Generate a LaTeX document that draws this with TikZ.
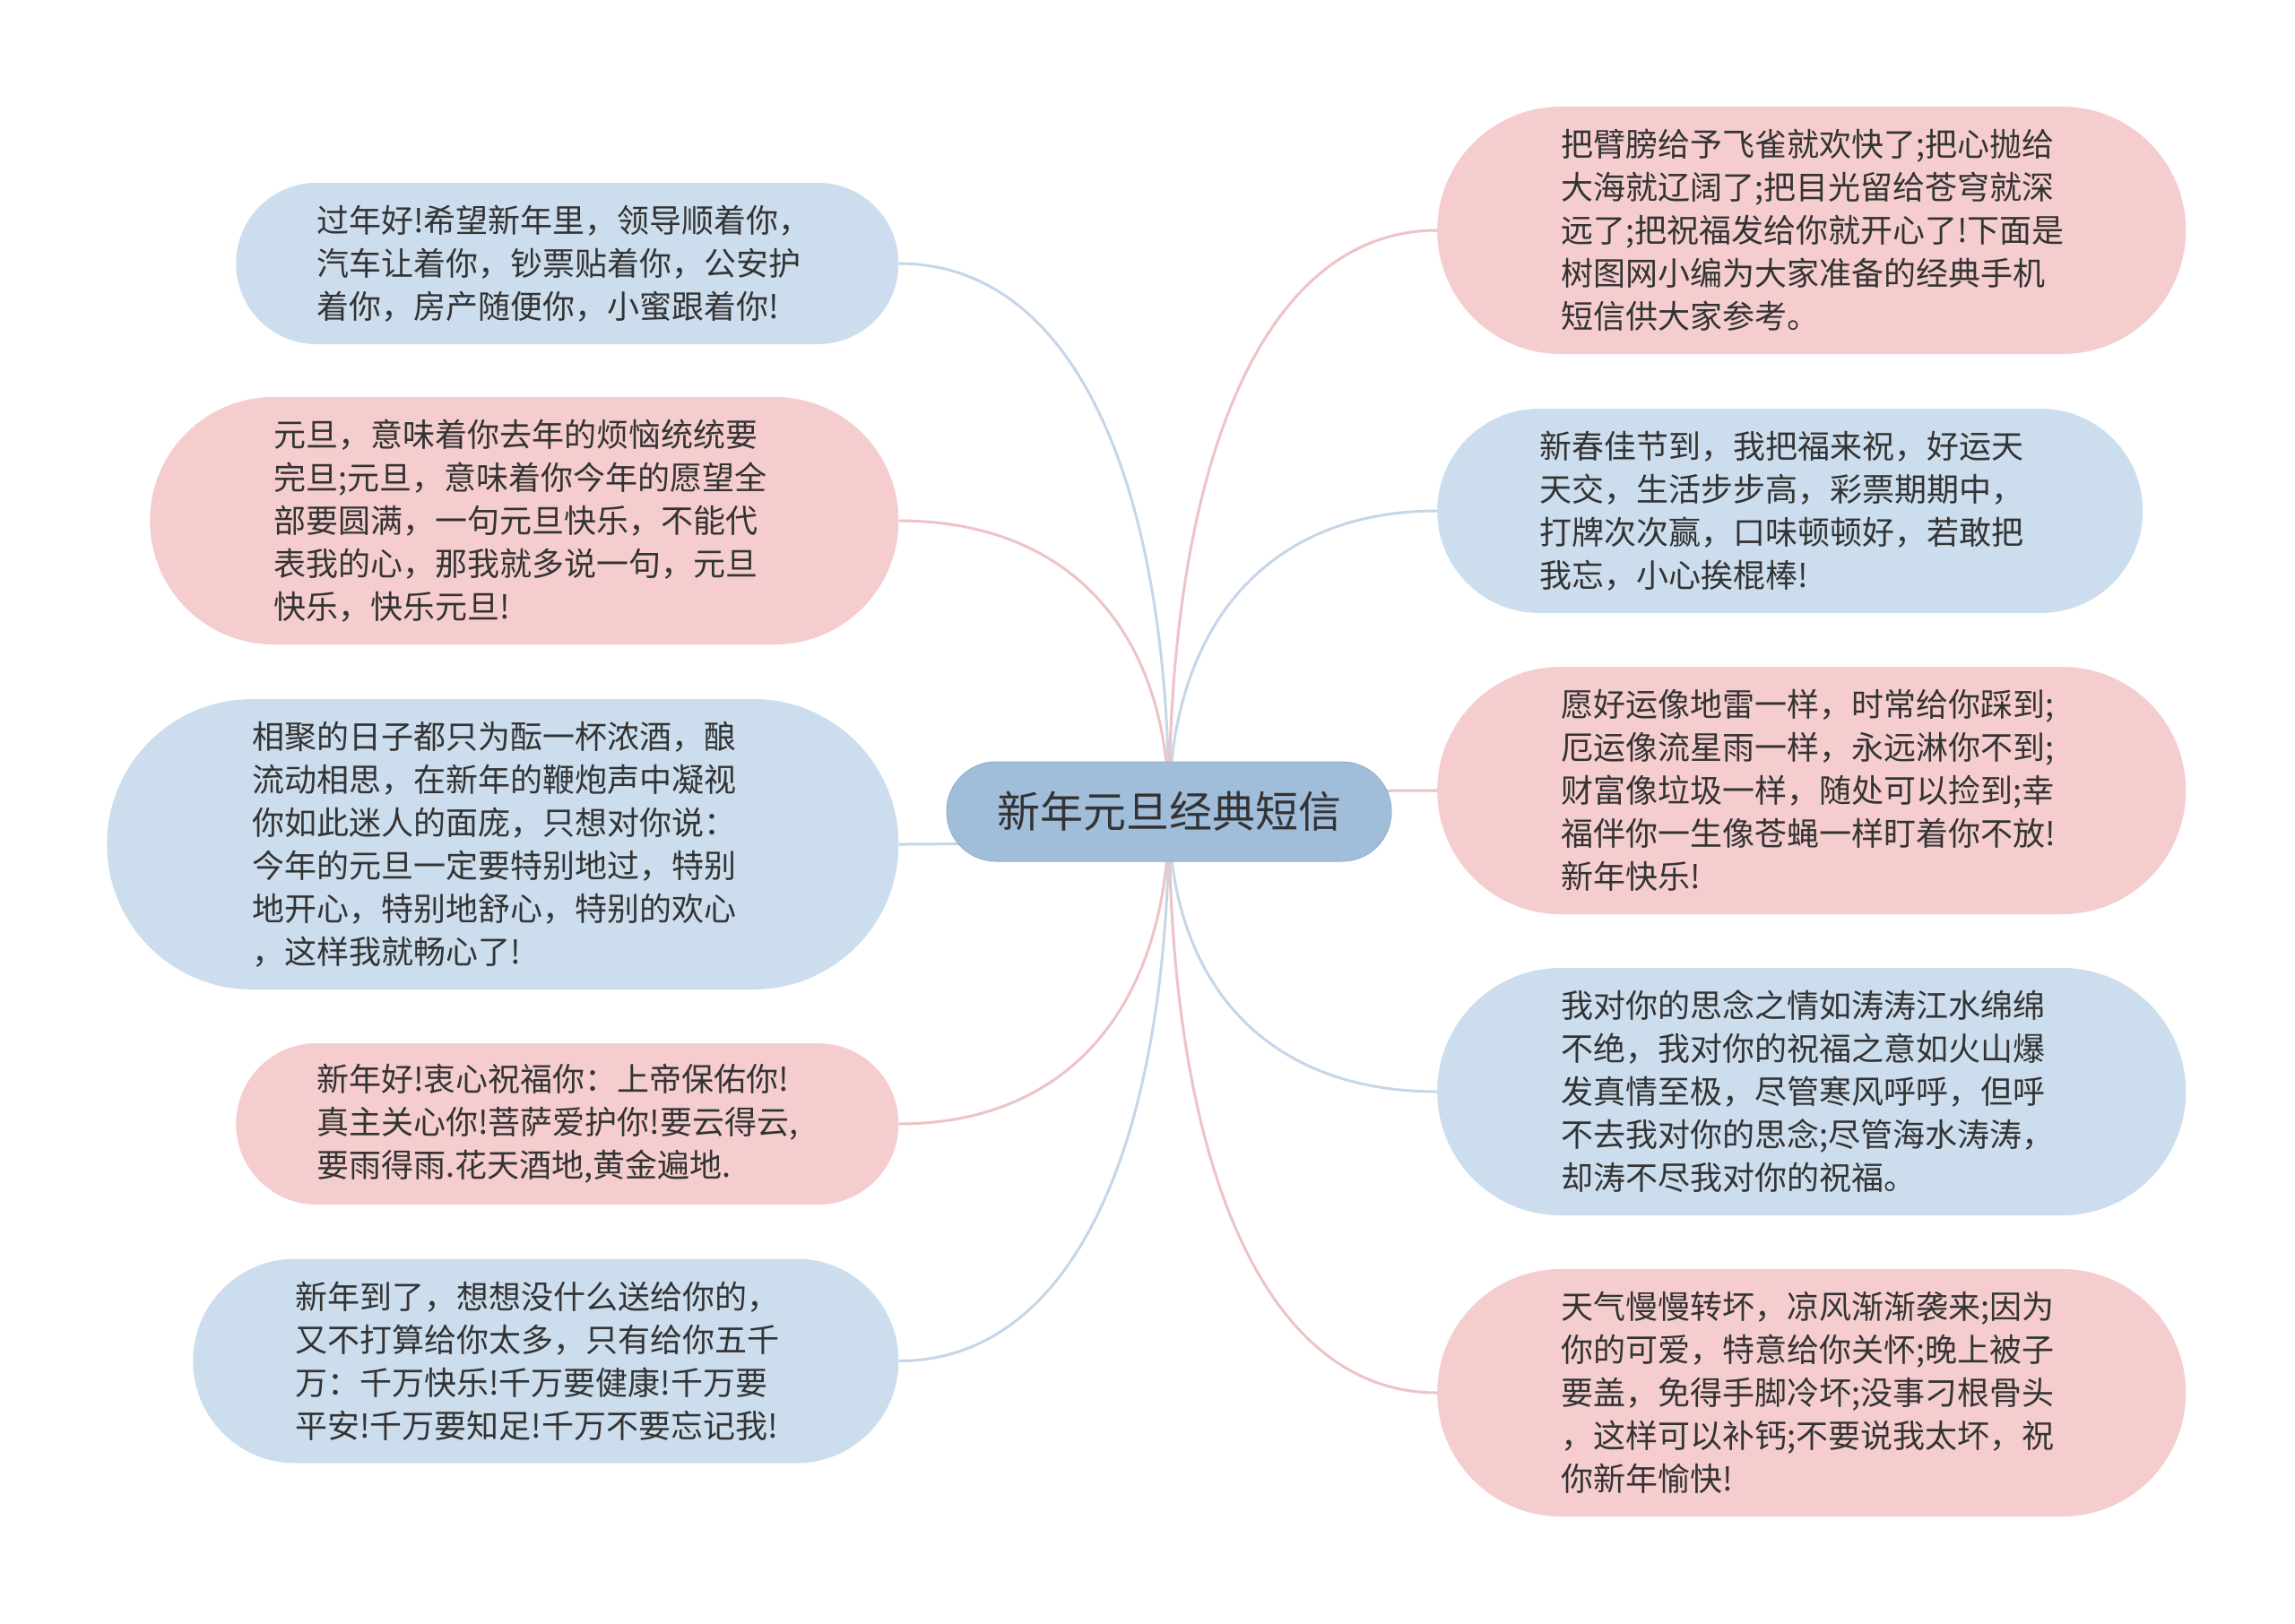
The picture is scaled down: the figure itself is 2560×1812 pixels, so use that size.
\documentclass[tikz,border=0pt]{standalone}
\usepackage{fontspec}
\setmainfont{Noto Sans CJK SC}
\usetikzlibrary{calc}
\pgfdeclarelayer{bg}
\pgfdeclarelayer{links}
\pgfsetlayers{bg,links,main}
\definecolor{bluefill}{HTML}{CCDDED}
\definecolor{pinkfill}{HTML}{F5CDCF}
\definecolor{bluelink}{HTML}{C5D6E8}
\definecolor{pinklink}{HTML}{EEC3C5}
\definecolor{rootfill}{HTML}{A0BEDA}
\definecolor{rootline}{HTML}{92B2D2}
\definecolor{txt}{HTML}{333333}
\tikzset{
  leaf/.style={draw=none, rectangle, text width=559pt, align=left, inner ysep=0pt,
    font=\fontsize{36}{48}\selectfont, text=txt},
  bleaf/.style={leaf, fill=bluefill},
  pleaf/.style={leaf, fill=pinkfill},
  hthree/.style={minimum height=180pt, inner xsep=90pt, rounded corners=89.9pt},
  hfour/.style={minimum height=228pt, inner xsep=114pt, rounded corners=113.9pt},
  hfive/.style={minimum height=276pt, inner xsep=138pt, rounded corners=137.9pt},
  hsix/.style={minimum height=324pt, inner xsep=162pt, rounded corners=161.9pt},
  rootbox/.style={rectangle, fill=rootfill, draw=rootline, line width=1pt,
    minimum width=496pt, minimum height=111pt, rounded corners=55pt,
    font=\fontsize{48}{56}\selectfont, text=txt},
  link/.style={line width=3pt},
}
\newcommand\mmlink[2]{\draw[link,#1] (C.center) .. controls ($(C.center)!0.6!(C.center|-#2)$) and ($(C.center|-#2)!0.35!(#2)$) .. (#2);}
\begin{document}
\begin{tikzpicture}[x=1pt,y=-1pt]
\useasboundingbox (0,0) rectangle (2560,1812);
\begin{pgfonlayer}{bg}
\fill[white] (0,0) rectangle (2560,1812);
\end{pgfonlayer}

\node[rootbox] (C) at (1304,905.5) {新年元旦经典短信};

% left side
\node[bleaf,hthree,anchor=east] (L1) at (1002.5,294) {过年好!希望新年里，领导顺着你，\\汽车让着你，钞票贴着你，公安护\\着你，房产随便你，小蜜跟着你!};
\node[pleaf,hfive,anchor=east] (L2) at (1002.5,581) {元旦，意味着你去年的烦恼统统要\\完旦;元旦，意味着你今年的愿望全\\部要圆满，一句元旦快乐，不能代\\表我的心，那我就多说一句，元旦\\快乐，快乐元旦!};
\node[bleaf,hsix,anchor=east] (L3) at (1002.5,942) {相聚的日子都只为酝一杯浓酒，酿\\流动相思，在新年的鞭炮声中凝视\\你如此迷人的面庞，只想对你说：\\今年的元旦一定要特别地过，特别\\地开心，特别地舒心，特别的欢心\\，这样我就畅心了!};
\node[pleaf,hthree,anchor=east] (L4) at (1002.5,1254) {新年好!衷心祝福你：上帝保佑你!\\真主关心你!菩萨爱护你!要云得云,\\要雨得雨.花天酒地,黄金遍地.};
\node[bleaf,hfour,anchor=east] (L5) at (1002.5,1518.5) {新年到了，想想没什么送给你的，\\又不打算给你太多，只有给你五千\\万：千万快乐!千万要健康!千万要\\平安!千万要知足!千万不要忘记我!};

% right side
\node[pleaf,hfive,anchor=west] (R1) at (1603,257) {把臂膀给予飞雀就欢快了;把心抛给\\大海就辽阔了;把目光留给苍穹就深\\远了;把祝福发给你就开心了!下面是\\树图网小编为大家准备的经典手机\\短信供大家参考。};
\node[bleaf,hfour,anchor=west] (R2) at (1603,570) {新春佳节到，我把福来祝，好运天\\天交，生活步步高，彩票期期中，\\打牌次次赢，口味顿顿好，若敢把\\我忘，小心挨棍棒!};
\node[pleaf,hfive,anchor=west] (R3) at (1603,882) {愿好运像地雷一样，时常给你踩到;\\厄运像流星雨一样，永远淋你不到;\\财富像垃圾一样，随处可以捡到;幸\\福伴你一生像苍蝇一样盯着你不放!\\新年快乐!};
\node[bleaf,hfive,anchor=west] (R4) at (1603,1218) {我对你的思念之情如涛涛江水绵绵\\不绝，我对你的祝福之意如火山爆\\发真情至极，尽管寒风呼呼，但呼\\不去我对你的思念;尽管海水涛涛，\\却涛不尽我对你的祝福。};
\node[pleaf,hfive,anchor=west] (R5) at (1603,1554) {天气慢慢转坏，凉风渐渐袭来;因为\\你的可爱，特意给你关怀;晚上被子\\要盖，免得手脚冷坏;没事刁根骨头\\，这样可以补钙;不要说我太坏，祝\\你新年愉快!};

\begin{pgfonlayer}{links}
\mmlink{bluelink}{L1.east}
\mmlink{pinklink}{L2.east}
\mmlink{bluelink}{L3.east}
\mmlink{pinklink}{L4.east}
\mmlink{bluelink}{L5.east}
\mmlink{pinklink}{R1.west}
\mmlink{bluelink}{R2.west}
\mmlink{pinklink}{R3.west}
\mmlink{bluelink}{R4.west}
\mmlink{pinklink}{R5.west}
\end{pgfonlayer}
\end{tikzpicture}
\end{document}
